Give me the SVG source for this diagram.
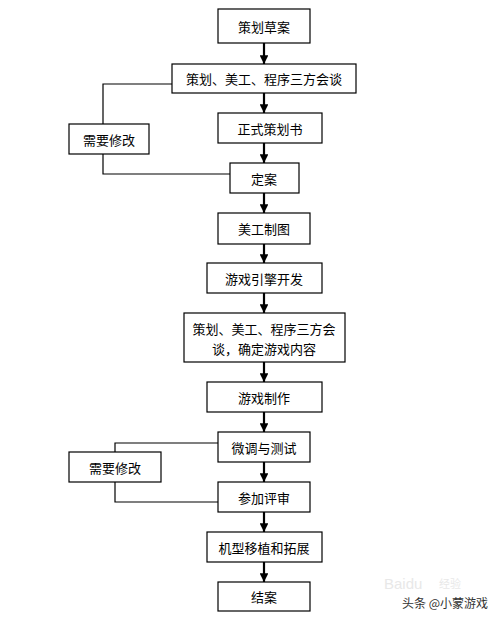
<svg xmlns="http://www.w3.org/2000/svg" width="499" height="621" viewBox="0 0 499 621">
<style>
.box{fill:#fff;stroke:#000;stroke-width:1.2}
.t{font-family:"Noto Sans CJK SC","Liberation Sans",sans-serif;font-size:13px;fill:#000;text-anchor:middle;dominant-baseline:central}
.arr{stroke:#000;stroke-width:2.2;fill:none;marker-end:url(#ah)}
.ln{stroke:#000;stroke-width:1.2;fill:none}
</style>
<defs>
<marker id="ah" viewBox="0 0 10 10" refX="10" refY="5" markerWidth="4" markerHeight="4" orient="auto" markerUnits="strokeWidth">
<path d="M0,0 L10,5 L0,10 z" fill="#000"/>
</marker>
</defs>
<rect width="499" height="621" fill="#fff"/>
<g id="connectors">
<line class="arr" x1="264" y1="43" x2="264" y2="64"/>
<line class="arr" x1="264" y1="93" x2="264" y2="113"/>
<line class="arr" x1="264" y1="143" x2="264" y2="163"/>
<line class="arr" x1="264" y1="193" x2="264" y2="213"/>
<line class="arr" x1="264" y1="244" x2="264" y2="263"/>
<line class="arr" x1="264" y1="293" x2="264" y2="313"/>
<line class="arr" x1="264" y1="362" x2="264" y2="382"/>
<line class="arr" x1="264" y1="412" x2="264" y2="432"/>
<line class="arr" x1="264" y1="462" x2="264" y2="482"/>
<line class="arr" x1="264" y1="512" x2="264" y2="532"/>
<line class="arr" x1="264" y1="562" x2="264" y2="582"/>
<polyline class="ln" points="172,84 103,84 103,124"/>
<polyline class="ln" points="103,154 103,174 230,174"/>
<polyline class="ln" points="218,443 115,443 115,452"/>
<polyline class="ln" points="115,482 115,502 218,502"/>
</g>
<g id="n1"><rect class="box" x="218" y="9" width="92" height="34"/><text class="t" x="264" y="26">策划草案</text></g>
<g id="n2"><rect class="box" x="172" y="64" width="184" height="29"/><text class="t" x="264" y="78.5">策划、美工、程序三方会谈</text></g>
<g id="n3"><rect class="box" x="218" y="113" width="104" height="30"/><text class="t" x="270" y="128">正式策划书</text></g>
<g id="n4"><rect class="box" x="69" y="124" width="80" height="30"/><text class="t" x="109" y="139">需要修改</text></g>
<g id="n5"><rect class="box" x="230" y="163" width="69" height="30"/><text class="t" x="264" y="178">定案</text></g>
<g id="n6"><rect class="box" x="218" y="213" width="92" height="31"/><text class="t" x="264" y="228.5">美工制图</text></g>
<g id="n7"><rect class="box" x="207" y="263" width="115" height="30"/><text class="t" x="264" y="278">游戏引擎开发</text></g>
<g id="n8"><rect class="box" x="184" y="313" width="161" height="49"/><text class="t" x="264" y="328">策划、美工、程序三方会</text><text class="t" x="264" y="348">谈，确定游戏内容</text></g>
<g id="n9"><rect class="box" x="207" y="382" width="115" height="30"/><text class="t" x="264" y="397">游戏制作</text></g>
<g id="n10"><rect class="box" x="218" y="432" width="92" height="30"/><text class="t" x="264" y="447">微调与测试</text></g>
<g id="n11"><rect class="box" x="69" y="452" width="92" height="30"/><text class="t" x="115" y="467">需要修改</text></g>
<g id="n12"><rect class="box" x="218" y="482" width="92" height="30"/><text class="t" x="264" y="497">参加评审</text></g>
<g id="n13"><rect class="box" x="207" y="532" width="115" height="30"/><text class="t" x="264" y="547">机型移植和拓展</text></g>
<g id="n14"><rect class="box" x="218" y="582" width="92" height="29"/><text class="t" x="264" y="596.5">结案</text></g>
<text x="384" y="589" font-family="Liberation Sans,sans-serif" font-size="15" fill="#e8e8e8">Baidu</text>
<text x="439" y="588" font-family="Noto Sans CJK SC,sans-serif" font-size="11" fill="#e8e8e8">经验</text>
<text x="488" y="608" font-family="Noto Sans CJK SC,sans-serif" font-size="12" fill="#333" text-anchor="end">头条 @小蒙游戏</text>
</svg>
